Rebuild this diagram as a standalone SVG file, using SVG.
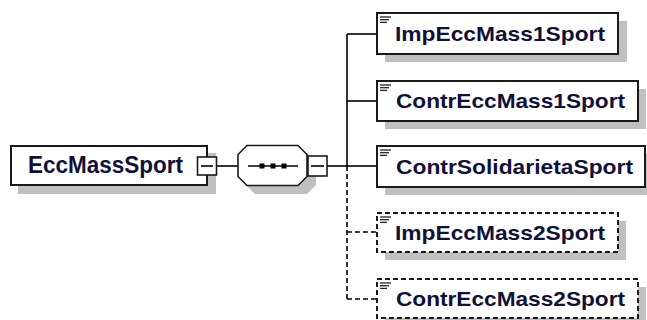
<svg xmlns="http://www.w3.org/2000/svg" width="647" height="320" viewBox="0 0 647 320">
<style>
.bg{fill:#ffffff}
.shadow{fill:#c0c0c0}
.box{fill:#ffffff;stroke:#1a1a1a;stroke-width:2}
.dbox{fill:#ffffff;stroke:#1a1a1a;stroke-width:2;stroke-dasharray:5 3}
.line{stroke:#000;stroke-width:1.6;fill:none}
.dline{stroke:#000;stroke-width:1.6;fill:none;stroke-dasharray:5 3}
.lbl{font-family:"Liberation Sans",Arial,sans-serif;font-weight:bold;font-size:21px;fill:#101038}
.big{font-size:23px}
.ico{stroke:#222;stroke-width:1.3}
.mbox{fill:#ffffff;stroke:#1a1a1a;stroke-width:1.6}
</style>
<rect class="bg" x="0" y="0" width="647" height="320"/>
<g id="connectors">
<line class="line" x1="217" y1="166" x2="238" y2="166"/>
<line class="line" x1="327" y1="166" x2="347" y2="166"/>
<line class="line" x1="347" y1="34" x2="347" y2="166"/>
<line class="dline" x1="347" y1="166" x2="347" y2="299"/>
<line class="line" x1="347" y1="34" x2="377" y2="34"/>
<line class="line" x1="347" y1="101" x2="377" y2="101"/>
<line class="line" x1="347" y1="166" x2="377" y2="166"/>
<line class="dline" x1="347" y1="232" x2="377" y2="232"/>
<line class="dline" x1="347" y1="299" x2="377" y2="299"/>
</g>
<g id="EccMassSport">
<rect class="shadow" x="18" y="153" width="198" height="41"/>
<rect class="box" x="11" y="146" width="196" height="39"/>
<text class="lbl big" x="28" y="173" textLength="155" lengthAdjust="spacingAndGlyphs">EccMassSport</text>
<rect class="mbox" x="197.5" y="157" width="19" height="18"/>
<line class="line" x1="201" y1="166" x2="213" y2="166"/>
</g>
<g id="sequence">
<polygon class="shadow" points="255,153 307,153 316,162 316,185 307,194 255,194 246,185 246,162"/>
<polygon class="box" style="stroke-width:1.6" points="247,145.5 298,145.5 307,154.5 307,176.5 298,185.5 247,185.5 238,176.5 238,154.5"/>
<line class="line" x1="248" y1="166" x2="298" y2="166"/>
<rect x="259.5" y="163.5" width="5" height="5" fill="#000"/>
<rect x="270.5" y="163.5" width="5" height="5" fill="#000"/>
<rect x="281.5" y="163.5" width="5" height="5" fill="#000"/>
<rect class="mbox" x="308" y="156" width="19" height="20"/>
<line class="line" x1="311" y1="166" x2="324" y2="166"/>
</g>
<g id="ImpEccMass1Sport">
<rect class="shadow" x="385" y="21" width="242" height="41"/>
<rect class="box" x="377" y="13" width="241" height="41"/>
<line class="ico" x1="380" y1="17" x2="391" y2="17"/>
<line class="ico" x1="380" y1="19.7" x2="389" y2="19.7"/>
<line class="ico" x1="380" y1="22.4" x2="387" y2="22.4"/>
<text class="lbl" x="395" y="41" textLength="210" lengthAdjust="spacingAndGlyphs">ImpEccMass1Sport</text>
</g>
<g id="ContrEccMass1Sport">
<rect class="shadow" x="385" y="89" width="261" height="40"/>
<rect class="box" x="377" y="81" width="261" height="40"/>
<line class="ico" x1="380" y1="85" x2="391" y2="85"/>
<line class="ico" x1="380" y1="87.7" x2="389" y2="87.7"/>
<line class="ico" x1="380" y1="90.4" x2="387" y2="90.4"/>
<text class="lbl" x="396" y="108" textLength="229" lengthAdjust="spacingAndGlyphs">ContrEccMass1Sport</text>
</g>
<g id="ContrSolidarietaSport">
<rect class="shadow" x="385" y="154" width="270" height="41"/>
<rect class="box" x="377" y="146" width="268" height="41"/>
<line class="ico" x1="380" y1="150" x2="391" y2="150"/>
<line class="ico" x1="380" y1="152.7" x2="389" y2="152.7"/>
<line class="ico" x1="380" y1="155.4" x2="387" y2="155.4"/>
<text class="lbl" x="396" y="174" textLength="237" lengthAdjust="spacingAndGlyphs">ContrSolidarietaSport</text>
</g>
<g id="ImpEccMass2Sport">
<rect class="shadow" x="385" y="221" width="241" height="39"/>
<rect class="dbox" x="377" y="213" width="241" height="39"/>
<line class="ico" x1="380" y1="217" x2="391" y2="217"/>
<line class="ico" x1="380" y1="219.7" x2="389" y2="219.7"/>
<line class="ico" x1="380" y1="222.4" x2="387" y2="222.4"/>
<text class="lbl" x="395" y="240" textLength="210" lengthAdjust="spacingAndGlyphs">ImpEccMass2Sport</text>
</g>
<g id="ContrEccMass2Sport">
<rect class="shadow" x="385" y="287" width="261" height="40"/>
<rect class="dbox" x="377" y="279" width="261" height="39"/>
<line class="ico" x1="380" y1="283" x2="391" y2="283"/>
<line class="ico" x1="380" y1="285.7" x2="389" y2="285.7"/>
<line class="ico" x1="380" y1="288.4" x2="387" y2="288.4"/>
<text class="lbl" x="396" y="306" textLength="229" lengthAdjust="spacingAndGlyphs">ContrEccMass2Sport</text>
</g>
</svg>
